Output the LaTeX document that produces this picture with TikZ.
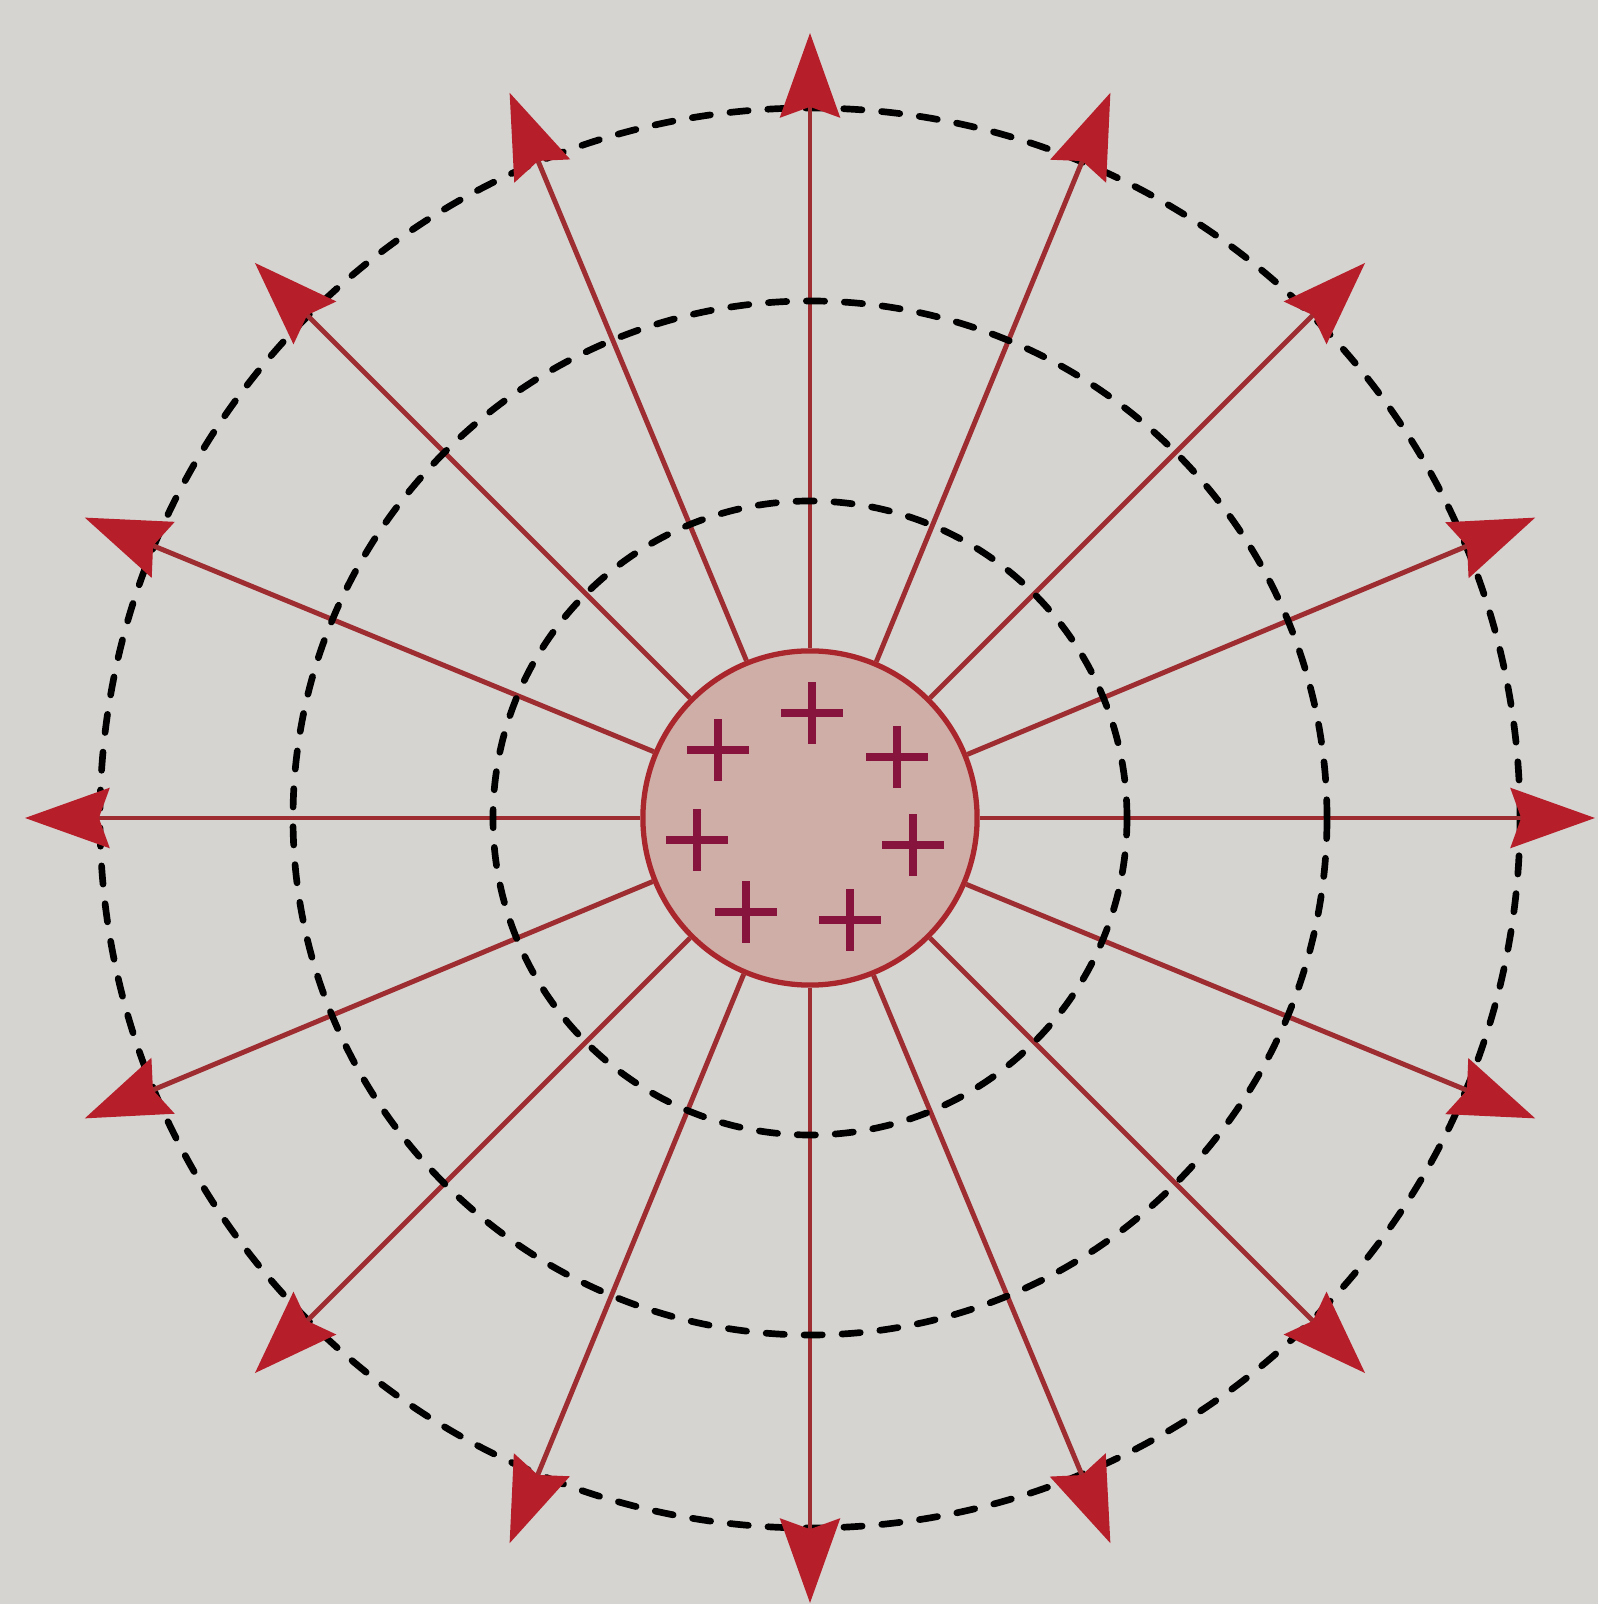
\documentclass[tikz,border=0pt]{standalone}
\usetikzlibrary{arrows.meta}
\definecolor{bg}{RGB}{214,212,208}
\definecolor{rayc}{RGB}{158,45,50}
\definecolor{tipc}{RGB}{182,30,42}
\definecolor{corefill}{RGB}{207,174,167}
\definecolor{coreline}{RGB}{170,38,45}
\definecolor{plusc}{RGB}{135,20,60}
\begin{document}
\begin{tikzpicture}[x=0.01cm,y=0.01cm,
  fieldline/.style={draw=rayc, line width=1.4pt,
    -{Stealth[length=24pt,width=17pt,inset=3pt,color=tipc]}},
  equip/.style={draw=black, line width=1.9pt, line cap=round,
    dash pattern=on 5.2pt off 5.6pt},
  charge/.style={draw=plusc, line width=2pt},
  corestyle/.style={circle, draw=coreline, line width=1.5pt, fill=corefill,
    minimum size=3.34cm, inner sep=0pt}]
  \useasboundingbox[fill=bg] (-810,-786) rectangle (788,818);
  % outer equipotential
  \draw[equip] (0,0) circle (710);
  % charged sphere
  \node[corestyle] (core) at (0,0) {};
  % field lines
  \foreach \i in {0,...,15}{
    \pgfmathsetmacro{\ang}{22.5*\i}
    \coordinate (t\i) at (\ang:785);
    \draw[fieldline] (core.\ang) -- (t\i);
  }
  % inner equipotentials
  \draw[equip] (0,0) circle (317);
  \draw[equip] (0,0) circle (517);
  % charges
  \foreach \p in {(2,105),(-92,68),(87,61),(-113,-22),(103,-27),(-64,-94),(40,-102)}{
    \draw[charge] \p ++(-31,0) -- ++(62,0) ++(-31,-31) -- ++(0,62);
  }
\end{tikzpicture}
\end{document}
